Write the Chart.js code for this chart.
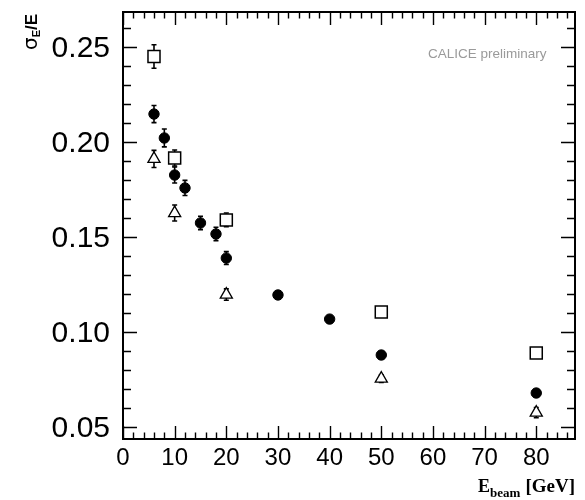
<!DOCTYPE html>
<html><head><meta charset="utf-8">
<script src="https://cdn.jsdelivr.net/npm/chart.js@4"></script>
<style>html,body{margin:0;padding:0;background:#fff}</style>
</head><body>
<canvas id="c" width="585" height="500"></canvas>
<script>
const circleX = [6, 8, 10, 12, 15, 18, 20, 30, 40, 50, 80];
const circleY = [0.2147, 0.2021, 0.1826, 0.1758, 0.1574, 0.1516, 0.1389, 0.1195, 0.1068, 0.0879, 0.0679];
const circleErr = [0.0045, 0.0047, 0.0042, 0.0040, 0.0035, 0.0035, 0.0034, 0.002, 0.002, 0.002, 0.002];
const squareX = [6, 10, 20, 50, 80];
const squareY = [0.2450, 0.1916, 0.1590, 0.1105, 0.0890];
const squareErr = [0.0062, 0.0042, 0.0036, 0.002, 0.002];
const triX = [6, 10, 20, 50, 80];
const triY = [0.1911, 0.1626, 0.1197, 0.0755, 0.0576];
const triErr = [0.0045, 0.0042, 0.0030, 0.002, 0.0027];
const xTicks = [0, 10, 20, 30, 40, 50, 60, 70, 80];
const yTicks = [0.05, 0.10, 0.15, 0.20, 0.25];
const xMinorStep = 2;
const yMinorStep = 0.01;
const xRange = [0, 87.5];
const yRange = [0.0437, 0.2684];

const pts = (xs, ys) => xs.map((x, i) => ({x: x, y: ys[i]}));

const errPlugin = {
  id: 'errbars',
  beforeDatasetsDraw(chart) {
    const ctx = chart.ctx, ys = chart.scales.y;
    ctx.save();
    ctx.strokeStyle = '#000';
    ctx.lineWidth = 1.6;
    chart.data.datasets.forEach((ds, di) => {
      const meta = chart.getDatasetMeta(di);
      meta.data.forEach((el, i) => {
        const v = ds.data[i].y, e = ds.err[i];
        const x = el.x;
        const y1 = ys.getPixelForValue(v + e), y2 = ys.getPixelForValue(v - e);
        ctx.beginPath();
        ctx.moveTo(x, y1); ctx.lineTo(x, y2);
        ctx.moveTo(x - 2.5, y1); ctx.lineTo(x + 2.5, y1);
        ctx.moveTo(x - 2.5, y2); ctx.lineTo(x + 2.5, y2);
        ctx.stroke();
      });
    });
    ctx.restore();
  }
};

const framePlugin = {
  id: 'frame',
  afterDraw(chart) {
    const ctx = chart.ctx, a = chart.chartArea, xs = chart.scales.x, ys = chart.scales.y;
    ctx.save();
    ctx.strokeStyle = '#000';
    ctx.lineWidth = 1.4;
    ctx.beginPath();
    for (let v = xRange[0]; v <= xRange[1] + 1e-9; v += xMinorStep) {
      const major = xTicks.some(t => Math.abs(t - v) < 1e-6);
      const L = major ? 13 : 6.5;
      const px = Math.round(xs.getPixelForValue(v)) + 0.5;
      ctx.moveTo(px, a.bottom); ctx.lineTo(px, a.bottom - L);
      ctx.moveTo(px, a.top); ctx.lineTo(px, a.top + L);
    }
    for (let k = Math.ceil(yRange[0] / yMinorStep); k * yMinorStep <= yRange[1]; k++) {
      const v = k * yMinorStep;
      const major = yTicks.some(t => Math.abs(t - v) < 1e-6);
      const L = major ? 14 : 8;
      const py = Math.round(ys.getPixelForValue(v)) + 0.5;
      ctx.moveTo(a.left, py); ctx.lineTo(a.left + L, py);
      ctx.moveTo(a.right, py); ctx.lineTo(a.right - L, py);
    }
    ctx.stroke();
    ctx.lineWidth = 2;
    ctx.strokeRect(a.left, a.top, a.right - a.left, a.bottom - a.top);

    ctx.fillStyle = '#9a9a9a';
    ctx.font = '13.5px "Liberation Sans", Arial, sans-serif';
    ctx.textAlign = 'left';
    ctx.textBaseline = 'alphabetic';
    ctx.fillText('CALICE preliminary', 428, 58);

    ctx.fillStyle = '#000';
    ctx.font = 'bold 19px "Liberation Serif", "Times New Roman", serif';
    ctx.textAlign = 'right';
    let xr = 575;
    ctx.fillText('[GeV]', xr, 492);
    xr -= ctx.measureText('[GeV]').width + 5;
    ctx.font = 'bold 13px "Liberation Serif", "Times New Roman", serif';
    ctx.fillText('beam', xr, 497);
    xr -= ctx.measureText('beam').width;
    ctx.font = 'bold 18px "Liberation Serif", "Times New Roman", serif';
    ctx.fillText('E', xr, 492);

    ctx.translate(37, 50);
    ctx.rotate(-Math.PI / 2);
    ctx.textAlign = 'left';
    let xx = 0;
    ctx.font = '20px "DejaVu Sans", sans-serif';
    ctx.fillText('σ', xx, 0);
    xx += ctx.measureText('σ').width;
    ctx.font = 'bold 11px "Liberation Sans", Arial, sans-serif';
    ctx.fillText('E', xx, 3);
    xx += ctx.measureText('E').width;
    ctx.font = 'bold 17px "Liberation Sans", Arial, sans-serif';
    ctx.fillText('/E', xx, 0);
    ctx.restore();
  }
};

new Chart(document.getElementById('c'), {
  type: 'scatter',
  data: {
    datasets: [
      {label: 'squares', data: pts(squareX, squareY), err: squareErr,
       pointStyle: 'rect', pointRadius: 8.5, pointHoverRadius: 8.5,
       backgroundColor: '#fff', borderColor: '#000', borderWidth: 1.5},
      {label: 'circles', data: pts(circleX, circleY), err: circleErr,
       pointStyle: 'circle', pointRadius: 5.2, pointHoverRadius: 5.2,
       backgroundColor: '#000', borderColor: '#000', borderWidth: 1},
      {label: 'triangles', data: pts(triX, triY), err: triErr,
       pointStyle: 'triangle', pointRadius: 7, pointHoverRadius: 7,
       backgroundColor: '#fff', borderColor: '#000', borderWidth: 1.3}
    ]
  },
  options: {
    responsive: false,
    animation: false,
    events: [],
    layout: {padding: {top: 12, right: 7, left: 0, bottom: 0}},
    plugins: {legend: {display: false}, tooltip: {enabled: false}},
    scales: {
      x: {
        type: 'linear', min: xRange[0], max: xRange[1],
        grid: {display: false, drawTicks: false},
        border: {display: false},
        afterBuildTicks: s => { s.ticks = xTicks.map(v => ({value: v})); },
        afterFit: s => { s.height = 61; s.paddingLeft = 0; s.paddingRight = 0; },
        ticks: {padding: 5, color: '#000', maxRotation: 0,
                font: {size: 24, family: '"Liberation Sans", Arial, sans-serif'},
                callback: v => String(v)}
      },
      y: {
        type: 'linear', min: yRange[0], max: yRange[1],
        grid: {display: false, drawTicks: false},
        border: {display: false},
        afterBuildTicks: s => { s.ticks = yTicks.map(v => ({value: v})); },
        afterFit: s => { s.width = 123; s.paddingTop = 0; s.paddingBottom = 0; },
        ticks: {padding: 13, color: '#000', labelOffset: 2,
                font: {size: 30, family: '"Liberation Sans", Arial, sans-serif'},
                callback: v => v.toFixed(2)}
      }
    }
  },
  plugins: [errPlugin, framePlugin]
});
</script>
</body></html>
